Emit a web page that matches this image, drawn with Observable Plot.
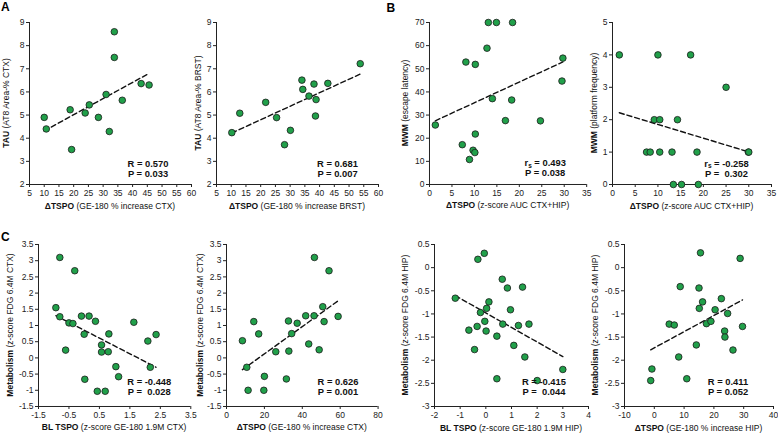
<!DOCTYPE html>
<html>
<head>
<meta charset="utf-8">
<script src="https://cdn.jsdelivr.net/npm/d3@7"></script>
<script src="https://cdn.jsdelivr.net/npm/@observablehq/plot@0.6"></script>
<style>
  html, body { margin: 0; padding: 0; background: #fff; }
  #fig { position: relative; width: 778px; height: 433px; overflow: hidden;
         font-family: "Liberation Sans", Arial, sans-serif; }
  .cell { position: absolute; }
  #letters { position: absolute; left: 0; top: 0; pointer-events: none; }
</style>
</head>
<body>
<div id="fig"></div>
<script>
// ---------------- DATA ----------------
// Panel A1: ΔTSPO (GE-180 % increase CTX) vs TAU (AT8 Area-% CTX)
const a1X = [10.0, 10.7, 18.8, 19.3, 23.9, 25.3, 28.4, 31.0, 32.1, 33.8, 33.8, 36.5, 42.9, 45.6];
const a1Y = [4.90, 4.40, 5.23, 3.51, 5.09, 5.44, 4.90, 5.89, 4.29, 8.60, 7.49, 5.64, 6.36, 6.30];
// Panel A2: ΔTSPO (GE-180 % increase BRST) vs TAU (AT8 Area-% BRST)
const a2X = [10.2, 12.9, 21.7, 25.4, 28.1, 30.1, 34.0, 34.3, 36.4, 38.1, 38.6, 38.8, 42.8, 53.8];
const a2Y = [4.24, 5.08, 5.55, 4.89, 3.72, 4.34, 6.51, 6.11, 5.82, 6.34, 4.96, 5.67, 6.37, 7.22];
// Panel B1: ΔTSPO (z-score AUC CTX+HIP) vs MWM escape latency
const b1X = [1.3, 7.3, 8.1, 8.9, 9.7, 10.1, 10.2, 10.2, 12.8, 13.1, 14.0, 14.9, 16.9, 18.3, 18.5, 24.7, 29.5, 29.7];
const b1Y = [25.7, 17.2, 52.9, 10.8, 14.8, 13.8, 51.9, 21.8, 58.9, 70, 37.1, 70, 27.6, 36.5, 70, 27.5, 44.7, 54.6];
// Panel B2: ΔTSPO (z-score AUC CTX+HIP) vs MWM platform frequency
const b2X = [1.5, 7.5, 8.3, 9.2, 10.0, 10.4, 10.4, 13.1, 13.4, 14.3, 15.2, 17.2, 18.6, 18.9, 25.0, 29.9, 30.0];
const b2Y = [4, 1, 1, 2, 4, 2, 1, 1, 0, 2, 0, 4, 1, 0, 3, 1, 1];
// Panel C1: BL TSPO (z-score GE-180 1.9M CTX) vs Metabolism (z-score FDG 6.4M CTX)
const c1X = [-0.80, -0.31, -0.93, -0.80, -0.50, -0.37, -0.61, -0.09, 0.00, 0.02, 0.16, 0.37, 0.43, 0.57, 0.57, 0.81, 0.79, 0.69, 1.04, 1.13, 1.63, 2.09, 2.17, 2.36];
const c1Y = [3.10, 2.69, 1.55, 1.27, 1.08, 1.06, 0.24, 1.29, 0.73, -0.66, 1.29, 1.13, -1.03, 0.40, 0.18, 0.74, 0.19, -1.03, -0.27, -0.58, 1.10, 0.52, -0.29, 0.72];
// Panel C2: ΔTSPO (GE-180 % increase CTX) vs Metabolism (z-score FDG 6.4M CTX)
const c2X = [8.4, 10.7, 11.4, 14.4, 17.0, 20.0, 19.7, 26.0, 31.6, 32.7, 32.9, 34.4, 37.3, 41.8, 43.4, 46.2, 46.4, 48.9, 50.8, 51.5, 54.1, 58.9];
const c2Y = [0.53, -0.29, -1.0, 1.12, 0.74, -0.57, -1.0, 0.19, -0.65, 1.14, 0.21, 0.75, 1.07, 1.30, 0.43, 1.30, 3.10, 0.25, 1.58, 1.12, 2.69, 1.28];
// Panel C3: BL TSPO (z-score GE-180 1.9M HIP) vs Metabolism (z-score FDG 6.4M HIP)
const c3X = [-1.19, -0.31, -0.06, -0.66, -0.44, -0.34, -0.21, -0.04, 0.01, 0.03, 0.12, 0.43, 0.43, 0.64, 0.66, 0.84, 0.96, 1.09, 1.27, 1.43, 1.52, 1.68, 3.0, 2.0];
const c3Y = [-0.66, 0.18, 0.31, -1.35, -1.77, -1.27, -0.97, -1.16, -1.37, -0.88, -0.74, -2.40, -1.48, -0.25, -1.22, -0.44, -0.91, -1.68, -1.25, -0.42, -1.93, -1.22, -2.20, -2.44];
// Panel C4: ΔTSPO (GE-180 % increase HIP) vs Metabolism (z-score FDG 6.4M HIP)
const c4X = [-1.2, -0.8, 5.0, 6.7, 8.7, 8.2, 10.9, 14.1, 15.0, 15.1, 15.5, 16.2, 17.5, 19.0, 20.4, 22.5, 23.6, 23.7, 24.6, 26.4, 28.8, 29.6];
const c4Y = [-2.44, -2.19, -1.22, -1.24, -0.41, -1.93, -2.40, -1.67, -0.44, -0.88, 0.32, -0.74, -1.21, -1.16, -0.91, -0.67, -1.37, -1.50, -0.99, -1.78, 0.20, -1.27];

// Tick labels
const ticksPct60 = [5, 10, 15, 20, 25, 30, 35, 40, 45, 50, 55, 60];
const ticksTau = [2, 3, 4, 5, 6, 7, 8, 9];
const ticksZ35 = [0, 5, 10, 15, 20, 25, 30, 35];
const ticksLatency = [0, 10, 20, 30, 40, 50, 60, 70];
const ticksFreq = [0, 1, 2, 3, 4, 5];
const ticksBLctx = [-1.5, -0.5, 0.5, 1.5, 2.5, 3.5];
const ticksMetCtx = [-1.5, -1, -0.5, 0, 0.5, 1, 1.5, 2, 2.5, 3, 3.5];
const ticksPct80 = [0, 20, 40, 60, 80];
const ticksBLhip = [-2, -1, 0, 1, 2, 3, 4];
const ticksMetHip = [-3, -2.5, -2, -1.5, -1, -0.5, 0, 0.5];
const ticksPct40 = [-10, 0, 10, 20, 30, 40];

// Statistics text
const statsA1 = ["R", "0.570", "0.033"];
const statsA2 = ["R", "0.681", "0.007"];
const statsB1 = ["rs", "0.493", "0.038"];
const statsB2 = ["rs", "-0.258", " 0.302"];
const statsC1 = ["R", "-0.448", " 0.028"];
const statsC2 = ["R", "0.626", "0.001"];
const statsC3 = ["R", "-0.415", " 0.044"];
const statsC4 = ["R", "0.411", "0.052"];

// ---------------- LAYOUT ----------------
const panels = [
  {x: a1X, y: a1Y, xt: ticksPct60, yt: ticksTau, xl: ["ΔTSPO", " (GE-180 % increase CTX)"], yl: ["TAU", " (AT8 Area-% CTX)"], st: statsA1,
   px: [29, 191], py: [22, 184], yo: -23.5, sx: -43, sy: 21},
  {x: a2X, y: a2Y, xt: ticksPct60, yt: ticksTau, xl: ["ΔTSPO", " (GE-180 % increase BRST)"], yl: ["TAU", " (AT8 Area-% BRST)"], st: statsA2,
   px: [216, 378], py: [22, 184], yo: -18, sx: -40.5, sy: 21},
  {x: b1X, y: b1Y, xt: ticksZ35, yt: ticksLatency, xl: ["ΔTSPO", " (z-score AUC CTX+HIP)"], yl: ["MWM", " (escape latency)"], st: statsB1,
   px: [428.5, 585.7], py: [22, 184], yo: -24, sx: -41, sy: 21.7},
  {x: b2X, y: b2Y, xt: ticksZ35, yt: ticksFreq, xl: ["ΔTSPO", " (z-score AUC CTX+HIP)"], yl: ["MWM", " (platform frequency)"], st: statsB2,
   px: [612.3, 771.3], py: [22, 184], yo: -18, sx: -44.5, sy: 21.3},
  {x: c1X, y: c1Y, xt: ticksBLctx, yt: ticksMetCtx, xl: ["BL TSPO", " (z-score GE-180 1.9M CTX)"], yl: ["Metabolism", " (z-score FDG 6.4M CTX)"], st: statsC1,
   px: [37.7, 190], py: [244, 406], yo: -28, sx: -41, sy: 25.3},
  {x: c2X, y: c2Y, xt: ticksPct80, yt: ticksMetCtx, xl: ["ΔTSPO", " (GE-180 % increase CTX)"], yl: ["Metabolism", " (z-score FDG 6.4M CTX)"], st: statsC2,
   px: [225.7, 377.3], py: [244, 406], yo: -26.5, sx: -39.6, sy: 25.3},
  {x: c3X, y: c3Y, xt: ticksBLhip, yt: ticksMetHip, xl: ["BL TSPO", " (z-score GE-180 1.9M HIP)"], yl: ["Metabolism", " (z-score FDG 6.4M HIP)"], st: statsC3,
   px: [434.3, 588.3], py: [244, 406], yo: -28.6, sx: -44, sy: 25.3},
  {x: c4X, y: c4Y, xt: ticksPct40, yt: ticksMetHip, xl: ["ΔTSPO", " (GE-180 % increase HIP)"], yl: ["Metabolism", " (z-score FDG 6.4M HIP)"], st: statsC4,
   px: [623.7, 772.7], py: [244, 406], yo: -28.7, sx: -45, sy: 25.3}
];

const FONT = "'Liberation Sans', Arial, Helvetica, sans-serif";
const fig = document.getElementById("fig");
const mL = 46, mR = 10, mT = 10, mB = 36;

for (const p of panels) {
  const W = p.px[1] - p.px[0], H = p.py[1] - p.py[0];
  const data = p.x.map((x, i) => ({x, y: p.y[i]}));
  const xd = [p.xt[0], p.xt[p.xt.length - 1]];
  const yd = [p.yt[0], p.yt[p.yt.length - 1]];
  const chart = Plot.plot({
    width: W + mL + mR,
    height: H + mT + mB,
    marginLeft: mL, marginRight: mR, marginTop: mT, marginBottom: mB,
    style: {background: "transparent", overflow: "visible", maxWidth: "none",
            fontFamily: FONT, fontSize: "8.5px", color: "#222"},
    x: {domain: xd, ticks: p.xt, tickFormat: d => String(d), tickSize: 3, tickPadding: 2, label: null},
    y: {domain: yd, ticks: p.yt, tickFormat: d => String(d), tickSize: 3, tickPadding: 2, label: null},
    marks: [
      Plot.ruleX([xd[0]], {stroke: "#222", strokeWidth: 1}),
      Plot.ruleY([yd[0]], {stroke: "#222", strokeWidth: 1}),
      Plot.linearRegressionY(data, {x: "x", y: "y", ci: 0, stroke: "#111", strokeWidth: 1.4, strokeDasharray: "5,3"}),
      Plot.dot(data, {x: "x", y: "y", r: 3.3, fill: "#21a04a", stroke: "#1b1b1b", strokeWidth: 0.8})
    ]
  });
  const svg = d3.select(chart);
  // x title
  const xt = svg.append("text")
    .attr("x", mL + W / 2).attr("y", mT + H + 24.5)
    .attr("text-anchor", "middle").attr("font-size", "8.5px").attr("fill", "#111");
  xt.append("tspan").attr("font-weight", "bold").text(p.xl[0]);
  xt.append("tspan").text(p.xl[1]);
  // y title
  const yt = svg.append("text")
    .attr("transform", `translate(${mL + p.yo},${mT + H / 2}) rotate(-90)`)
    .attr("text-anchor", "middle").attr("dominant-baseline", "central")
    .attr("font-size", "8.5px").attr("fill", "#111");
  yt.append("tspan").attr("font-weight", "bold").text(p.yl[0]);
  yt.append("tspan").text(p.yl[1]);
  // stats
  const sx = mL + W + p.sx, sy = mT + H - p.sy;
  const r1 = svg.append("text").attr("x", sx).attr("y", sy)
    .attr("dominant-baseline", "central").attr("font-weight", "bold")
    .attr("font-size", "9.4px").attr("fill", "#111");
  if (p.st[0] === "rs") {
    r1.append("tspan").text("r");
    r1.append("tspan").attr("font-size", "6.5px").attr("dy", 2.5).text("s");
    r1.append("tspan").attr("dy", -2.5).text(" = " + p.st[1]);
  } else {
    r1.append("tspan").text("R = " + p.st[1]);
  }
  svg.append("text").attr("x", sx).attr("y", sy + 10.5)
    .attr("dominant-baseline", "central").attr("font-weight", "bold")
    .attr("font-size", "9.4px").attr("fill", "#111")
    .attr("xml:space", "preserve").style("white-space", "pre")
    .text("P = " + p.st[2]);

  const cell = document.createElement("div");
  cell.className = "cell";
  cell.style.left = (p.px[0] - mL) + "px";
  cell.style.top = (p.py[0] - mT) + "px";
  cell.appendChild(chart);
  fig.appendChild(cell);
}

// Panel letters
const letters = d3.create("svg").attr("id", "letters").attr("width", 778).attr("height", 433);
const letterData = [["A", 1, 10.5], ["B", 386.5, 11.8], ["C", 1, 240.5]];
for (const [t, x, y] of letterData) {
  letters.append("text").attr("x", x).attr("y", y).attr("font-family", FONT)
    .attr("font-weight", "bold").attr("font-size", "12px").attr("fill", "#000").text(t);
}
fig.appendChild(letters.node());
</script>
</body>
</html>
